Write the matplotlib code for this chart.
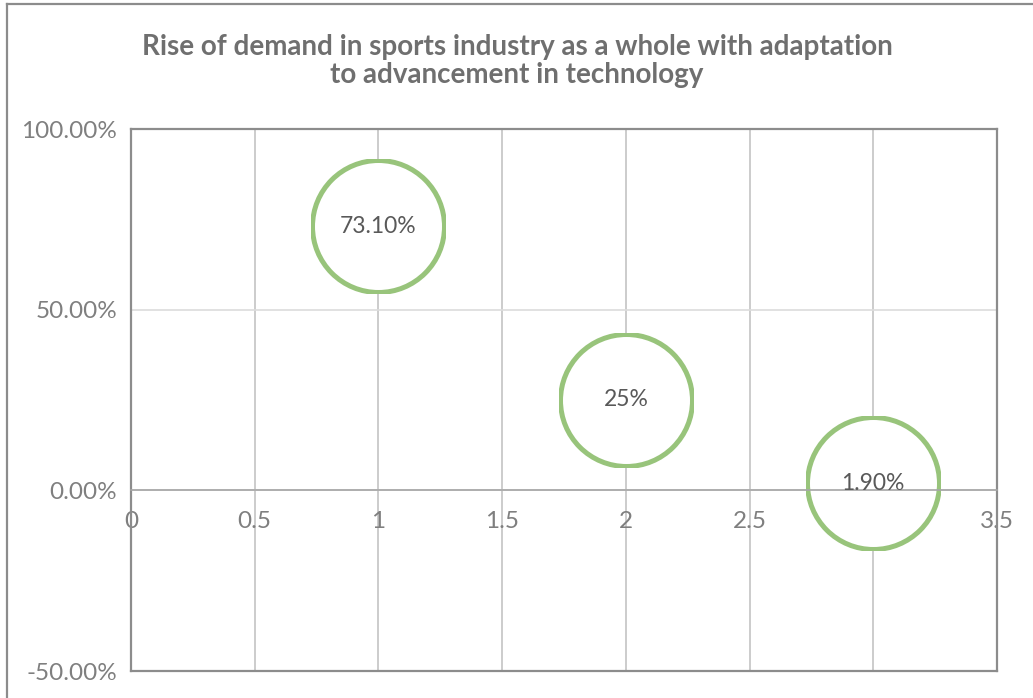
import matplotlib
matplotlib.use("Agg")
import matplotlib.pyplot as plt
from matplotlib.patches import Rectangle
from matplotlib.lines import Line2D
from matplotlib.ticker import FuncFormatter, MultipleLocator

# Donnees du graphique a bulles
x_vals = [1, 2, 3]
y_vals = [0.731, 0.25, 0.019]
labels = ["73.10%", "25%", "1.90%"]

title = ("Rise of demand in sports industry as a whole with adaptation\n"
         "to advancement in technology")

plt.rcParams['font.family'] = ['Lato', 'DejaVu Sans']

W, H, DPI = 1033, 698, 100
fig = plt.figure(figsize=(W / DPI, H / DPI), dpi=DPI)
fig.patch.set_facecolor('white')

# Cadre exterieur du graphique (gauche et haut)
fig.add_artist(Line2D([7 / W, 7 / W], [0, 1 - 4 / H], transform=fig.transFigure,
                      color='#8c8c8c', lw=1.6))
fig.add_artist(Line2D([7 / W, 1], [1 - 4 / H, 1 - 4 / H], transform=fig.transFigure,
                      color='#8c8c8c', lw=1.6))

left, right, top, bottom = 131, 997, 129, 671
ax = fig.add_axes([left / W, 1 - bottom / H, (right - left) / W, (bottom - top) / H])
ax.set_xlim(0, 3.5)
ax.set_ylim(-0.5, 1.0)

# Quadrillage
ax.xaxis.set_major_locator(MultipleLocator(0.5))
ax.yaxis.set_major_locator(MultipleLocator(0.5))
ax.grid(axis='x', color='#c4c4c4', lw=1.2, zorder=0)
ax.grid(axis='y', color='#dcdcdc', lw=1.2, zorder=0)

# Axe horizontal place a y = 0, bordure de la zone de trace
for s in ['top', 'right', 'left']:
    ax.spines[s].set_color('#8c8c8c')
    ax.spines[s].set_linewidth(1.6)
ax.spines['bottom'].set_position(('data', 0))
ax.spines['bottom'].set_color('#a6a6a6')
ax.spines['bottom'].set_linewidth(1.2)
ax.axhline(-0.5, color='#8c8c8c', lw=1.6, clip_on=False, zorder=3)

ax.yaxis.set_major_formatter(FuncFormatter(lambda v, p: f"{v * 100:.2f}%"))
ax.xaxis.set_major_formatter(FuncFormatter(lambda v, p: f"{v:g}"))
ax.tick_params(axis='y', length=0, pad=10, labelsize=17.5, labelcolor='#7f7f7f')
ax.tick_params(axis='x', length=0, pad=15, labelsize=17.5, labelcolor='#7f7f7f')

# Bulles (taille identique), legerement rognees comme dans Excel
ax_w = right - left
ax_h = bottom - top
half = 67
hx = half / ax_w * 3.5
hy = half / ax_h * 1.5
diam_pt = 132 * 72 / DPI
for x, y, lab in zip(x_vals, y_vals, labels):
    sc = ax.scatter([x], [y], s=diam_pt ** 2, facecolors='white', edgecolors='#98c47b',
                    linewidths=3.6, zorder=2)
    clip = Rectangle((x - hx, y - hy), 2 * hx, 2 * hy, transform=ax.transData)
    sc.set_clip_path(clip)
    ax.text(x, y, lab, ha='center', va='center', fontsize=16.5, color='#595959', zorder=4)

fig.text(0.5005, 0.913, title, ha='center', va='center', fontsize=20,
         fontweight='bold', color='#6f6f6f', linespacing=1.1)

fig.savefig('out.png', dpi=DPI)
